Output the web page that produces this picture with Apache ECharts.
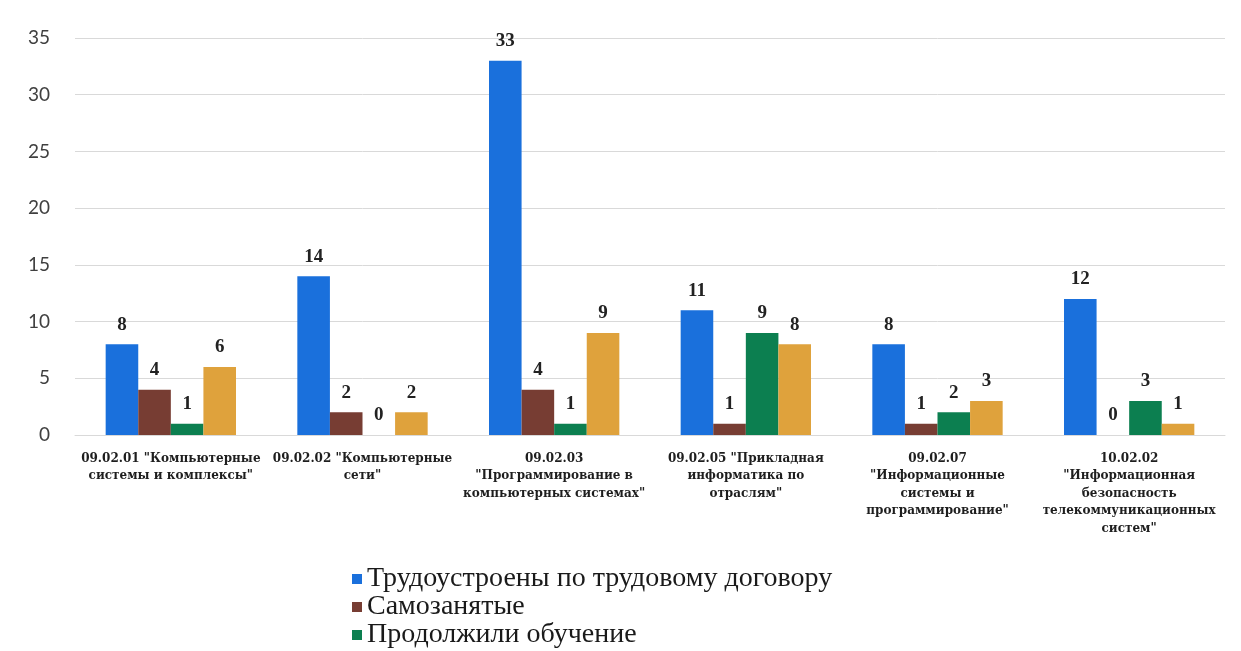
<!DOCTYPE html>
<html><head><meta charset="utf-8">
<script src="https://cdn.jsdelivr.net/npm/echarts@6/dist/echarts.min.js"></script>
<style>html,body{margin:0;padding:0;background:#fff}#c{width:1241px;height:651px}</style>
</head><body><div id="c"></div>
<script>
const categories = [
  '09.02.01 "Компьютерные\nсистемы и комплексы"',
  '09.02.02 "Компьютерные\nсети"',
  '09.02.03\n"Программирование в\nкомпьютерных системах"',
  '09.02.05 "Прикладная\nинформатика по\nотраслям"',
  '09.02.07\n"Информационные\nсистемы и\nпрограммирование"',
  '10.02.02\n"Информационная\nбезопасность\nтелекоммуникационных\nсистем"'
];
const seriesNames = ['Трудоустроены по трудовому договору','Самозанятые','Продолжили обучение','Призваны в армию'];
const employed = [8, 14, 33, 11, 8, 12];
const selfEmployed = [4, 2, 4, 1, 1, 0];
const continuedStudy = [1, 0, 1, 9, 2, 3];
const other = [6, 2, 9, 8, 3, 1];
const yTicks = [0, 5, 10, 15, 20, 25, 30, 35];
const colors = ['#1a70dc', '#773d33', '#0c7f50', '#dfa23c'];

const chart = echarts.init(document.getElementById('c'));
const values = [employed, selfEmployed, continuedStudy, other];
chart.setOption({
  animation: false,
  grid: {left: 75, right: 16, top: 38, bottom: 216},
  legend: {
    orient: 'vertical', left: 352, top: 565, height: 200, itemWidth: 10, itemHeight: 10, itemGap: 0,
    icon: 'rect', padding: 0,
    textStyle: {fontFamily: 'Liberation Serif', fontSize: 28, lineHeight: 26, color: '#1a1a1a'},
    data: seriesNames.slice(0, 3)
  },
  xAxis: {
    type: 'category', data: categories,
    axisLine: {show: true, lineStyle: {color: '#d9d9d9'}},
    axisTick: {show: false},
    axisLabel: {interval: 0, margin: 15, fontFamily: 'DejaVu Serif', fontWeight: 'bold', fontSize: 12, lineHeight: 17.5, color: '#1e1e1e'}
  },
  yAxis: {
    type: 'value', min: yTicks[0], max: yTicks[yTicks.length-1], interval: 5,
    axisLine: {show: false}, axisTick: {show: false},
    splitLine: {lineStyle: {color: '#d9d9d9'}},
    axisLabel: {margin: 25, fontFamily: 'Lato', fontSize: 19, color: '#404040'}
  },
  series: values.map((v, i) => ({
    name: seriesNames[i], type: 'bar', data: v,
    barGap: '0%', barCategoryGap: '32%',
    itemStyle: {color: colors[i]},
    label: {show: true, position: 'top', distance: 10, fontFamily: 'Liberation Serif', fontWeight: 'bold', fontSize: 19, color: '#222'}
  }))
});
</script></body></html>
